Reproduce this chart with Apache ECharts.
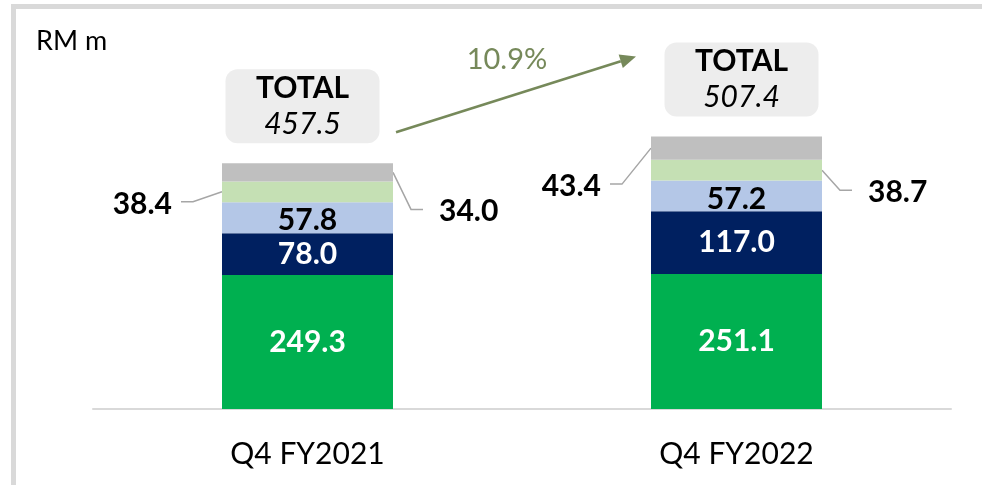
<!DOCTYPE html>
<html>
<head>
<meta charset="utf-8">
<script src="https://cdn.jsdelivr.net/npm/echarts@6.0.0/dist/echarts.min.js"></script>
<style>
  html, body { margin: 0; padding: 0; background: #fff; }
  #chart { width: 982px; height: 485px; }
</style>
</head>
<body>
<div id="chart"></div>
<script>
  // data
  var categories = ['Q4 FY2021', 'Q4 FY2022'];
  var greenSeg = [249.3, 251.1];
  var navySeg = [78.0, 117.0];
  var blueSeg = [57.8, 57.2];
  var lightGreenSeg = [38.4, 38.7];
  var greySeg = [34.0, 43.4];
  var totals = ['457.5', '507.4'];
  var growth = '10.9%';
  var unit = 'RM m';

  var FONT = 'Lato, "Open Sans", sans-serif';
  var OLIVE = '#76895a';
  var BAR_W = 171;

  var chart = echarts.init(document.getElementById('chart'));

  function inLabel(color, off) {
    return {
      show: true,
      position: 'inside',
      offset: off || [0, 0],
      color: color,
      fontFamily: FONT,
      fontWeight: 'bold',
      fontSize: 30,
      formatter: function (p) { return p.value.toFixed(1); }
    };
  }

  // total boxes sit on the top (grey) segment, nudged sideways a bit
  var boxDx = [-5, 5];

  var option = {
    animation: false,
    grid: { left: 93, right: 31, top: 33, bottom: 76 },
    xAxis: {
      type: 'category',
      data: categories,
      axisLine: { lineStyle: { color: '#d9d9d9', width: 2 } },
      axisTick: { show: false },
      axisLabel: { color: '#000', fontFamily: FONT, fontSize: 30, margin: 30 }
    },
    yAxis: { type: 'value', min: 0, max: 700, show: false },
    series: [
      { type: 'bar', stack: 't', barWidth: BAR_W, data: greenSeg,
        itemStyle: { color: '#00b050' }, label: inLabel('#fff') },
      { type: 'bar', stack: 't', barWidth: BAR_W, data: navySeg,
        itemStyle: { color: '#002060' }, label: inLabel('#fff') },
      { type: 'bar', stack: 't', barWidth: BAR_W, data: blueSeg,
        itemStyle: { color: '#b4c7e7' }, label: inLabel('#000', [0, 3]) },
      { type: 'bar', stack: 't', barWidth: BAR_W, data: lightGreenSeg,
        itemStyle: { color: '#c5e0b4' } },
      { type: 'bar', stack: 't', barWidth: BAR_W,
        data: greySeg.map(function (v, i) {
          return { value: v, label: { offset: [boxDx[i], 0] } };
        }),
        itemStyle: { color: '#bfbfbf' },
        label: {
          show: true,
          position: 'top',
          distance: 20,
          width: 154,
          padding: [1, 0],
          align: 'center',
          backgroundColor: '#ededed',
          borderRadius: 12,
          formatter: function (p) {
            return '{t|TOTAL}\n{v|' + totals[p.dataIndex] + '}';
          },
          rich: {
            t: { fontFamily: FONT, fontWeight: 'bold', fontSize: 30, lineHeight: 36, color: '#000', align: 'center', width: 154 },
            v: { fontFamily: FONT, fontStyle: 'italic', fontSize: 30, lineHeight: 36, color: '#000', align: 'center', width: 154 }
          }
        }
      }
    ]
  };
  chart.setOption(option);

  // pixel helpers from the chart's own axes
  function px(i, v) {
    return chart.convertToPixel({ xAxisIndex: 0, yAxisIndex: 0 }, [i, v]);
  }
  function stackBelow(i, upto) {
    var segs = [greenSeg, navySeg, blueSeg, lightGreenSeg, greySeg];
    var s = 0;
    for (var k = 0; k < upto; k++) s += segs[k][i];
    return s;
  }

  var graphics = [];

  // frame
  graphics.push({ type: 'rect', shape: { x: 11, y: 4, width: 5, height: 481 }, style: { fill: '#d9d9d9' }, silent: true });
  graphics.push({ type: 'rect', shape: { x: 11, y: 4, width: 971, height: 5 }, style: { fill: '#d9d9d9' }, silent: true });

  graphics.push({
    type: 'text', x: 36, y: 41,
    style: { text: unit, fontFamily: FONT, fontSize: 27, fill: '#000', verticalAlign: 'middle' }
  });

  // outside labels with leader lines: segment index 3 = light green, 4 = grey
  var outside = [
    { cat: 0, seg: 3, vals: lightGreenSeg, side: 'left', dy: 10 },
    { cat: 0, seg: 4, vals: greySeg, side: 'right', dy: 37 },
    { cat: 1, seg: 4, vals: greySeg, side: 'left', dy: 36 },
    { cat: 1, seg: 3, vals: lightGreenSeg, side: 'right', dy: 20 }
  ];
  outside.forEach(function (o) {
    var base = stackBelow(o.cat, o.seg);
    var mid = px(o.cat, base + o.vals[o.cat] / 2);
    var cx = mid[0], my = mid[1];
    var pts, tx, align;
    if (o.side === 'left') {
      var xl = cx - BAR_W / 2;
      pts = [[xl, my], [xl - 29, my + o.dy], [xl - 41, my + o.dy]];
      tx = xl - 50; align = 'right';
    } else {
      var xr = cx + BAR_W / 2;
      pts = [[xr, my], [xr + 18, my + o.dy], [xr + 30, my + o.dy]];
      tx = xr + 46; align = 'left';
    }
    graphics.push({ type: 'polyline', shape: { points: pts }, style: { stroke: '#a6a6a6', lineWidth: 1.5, fill: null }, silent: true });
    graphics.push({
      type: 'text', x: tx, y: my + o.dy + 2,
      style: { text: o.vals[o.cat].toFixed(1), fontFamily: FONT, fontWeight: 'bold', fontSize: 30, fill: '#000', align: align, verticalAlign: 'middle' }
    });
  });

  // growth arrow between the two totals
  var top0 = px(0, stackBelow(0, 5));
  var top1 = px(1, stackBelow(1, 5));
  var a0 = [top0[0] + BAR_W / 2 + 3, top0[1] - 31];
  var a1 = [top1[0] - BAR_W / 2 - 15, top1[1] - 80];
  var ang = Math.atan2(a1[1] - a0[1], a1[0] - a0[0]);
  var hl = 16, hw = 7;
  var back = [a1[0] - hl * Math.cos(ang), a1[1] - hl * Math.sin(ang)];
  var nx = -Math.sin(ang), ny = Math.cos(ang);
  graphics.push({ type: 'line', shape: { x1: a0[0], y1: a0[1], x2: back[0], y2: back[1] }, style: { stroke: OLIVE, lineWidth: 2.5 }, silent: true });
  graphics.push({
    type: 'polygon',
    shape: { points: [a1, [back[0] + nx * hw, back[1] + ny * hw], [back[0] - nx * hw, back[1] - ny * hw]] },
    style: { fill: OLIVE }, silent: true
  });
  graphics.push({
    type: 'text', x: (a0[0] + a1[0]) / 2 - 9, y: (a0[1] + a1[1]) / 2 - 35,
    style: { text: growth, fontFamily: FONT, fontSize: 29, fill: OLIVE, align: 'center', verticalAlign: 'middle' }
  });

  chart.setOption({ graphic: graphics });
</script>
</body>
</html>
